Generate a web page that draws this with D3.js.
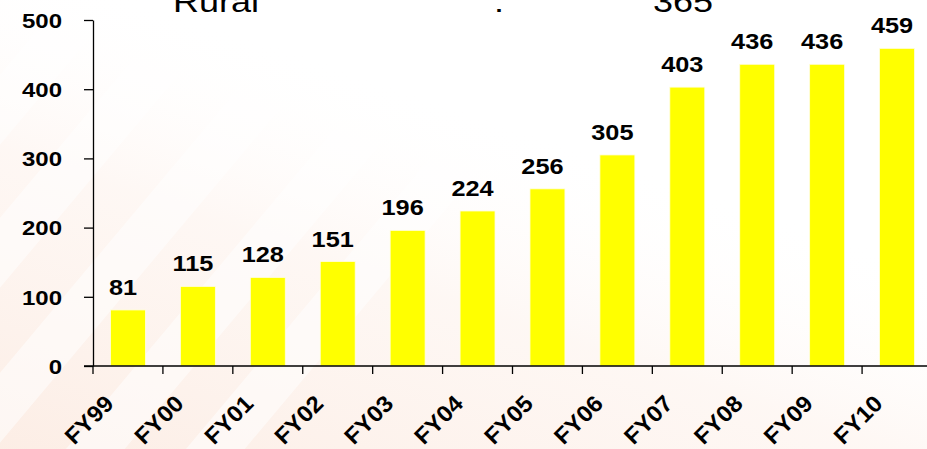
<!DOCTYPE html>
<html>
<head>
<meta charset="utf-8">
<script src="https://cdn.jsdelivr.net/npm/d3@7"></script>
<style>
  body { margin: 0; background: #fff; }
  svg { display: block; font-family: Arial, "Liberation Sans", sans-serif; }
</style>
</head>
<body>
<script>
// chart data
var years = ["FY99", "FY00", "FY01", "FY02", "FY03", "FY04", "FY05", "FY06", "FY07", "FY08", "FY09", "FY10"];
var values = [81, 115, 128, 151, 196, 224, 256, 305, 403, 436, 436, 459];
var yTicks = [0, 100, 200, 300, 400, 500];
var titleParts = ["Rural", ":", "365"];

var width = 927, height = 449;
var SX = 1.2; // text looks horizontally stretched in the original slide

var svg = d3.select("body").append("svg")
  .attr("width", width)
  .attr("height", height);

// faint watermark on the left side of the slide
var defs = svg.append("defs");
var grad = defs.append("linearGradient")
  .attr("id", "wm")
  .attr("x1", "0%").attr("y1", "100%")
  .attr("x2", "70%").attr("y2", "0%");
grad.append("stop").attr("offset", "0%").attr("stop-color", "#fbe6da").attr("stop-opacity", 0.7);
grad.append("stop").attr("offset", "45%").attr("stop-color", "#fdf0e9").attr("stop-opacity", 0.5);
grad.append("stop").attr("offset", "75%").attr("stop-color", "#ffffff").attr("stop-opacity", 0);
svg.append("rect").attr("width", width).attr("height", height).attr("fill", "url(#wm)");

var stripes = svg.append("g").attr("opacity", 0.55);
[-120, 0, 130, 260, 380].forEach(function(o) {
  stripes.append("rect")
    .attr("x", o).attr("y", -200)
    .attr("width", 45).attr("height", 900)
    .attr("fill", "#ffffff")
    .attr("transform", "rotate(40," + (o + 20) + ",225)");
});

// scales
var y = d3.scaleLinear()
  .domain([0, 500])
  .range([366, 20]);

var x = d3.scaleBand()
  .domain(years)
  .range([93, 932])
  .paddingInner(0.5)
  .paddingOuter(0.25);

// title (mostly cut off at the top, as in the slide)
var title = svg.append("g").attr("font-size", 30).attr("fill", "#000");
[[173, titleParts[0]], [494, titleParts[1]], [653, titleParts[2]]].forEach(function(t) {
  title.append("text")
    .attr("transform", "translate(" + t[0] + ",12) scale(" + SX + ",1)")
    .text(t[1]);
});

// bars
svg.append("g")
  .selectAll("rect")
  .data(values)
  .enter().append("rect")
  .attr("x", function(d, i) { return x(years[i]); })
  .attr("y", function(d) { return y(d); })
  .attr("width", x.bandwidth())
  .attr("height", function(d) { return y(0) - y(d); })
  .attr("fill", "#ffff00")
  .attr("stroke", "#fffde0")
  .attr("stroke-width", 0.8);

// value labels
svg.append("g")
  .selectAll("text")
  .data(values)
  .enter().append("text")
  .attr("transform", function(d, i) {
    return "translate(" + (x(years[i]) + x.bandwidth() / 2 - 5) + "," + (y(d) - 15) + ") scale(1.15,1)";
  })
  .attr("text-anchor", "middle")
  .attr("font-size", 22)
  .attr("font-weight", "bold")
  .text(function(d) { return d; });

// y axis
var yAxis = d3.axisLeft(y)
  .tickValues(yTicks)
  .tickSize(9)
  .tickSizeOuter(0);

var gy = svg.append("g")
  .attr("transform", "translate(93,0)")
  .call(yAxis);
gy.select(".domain").attr("stroke", "#000").attr("stroke-width", 1.3);
gy.selectAll(".tick line").attr("stroke", "#000").attr("stroke-width", 1.3);
gy.selectAll(".tick text")
  .attr("x", 0)
  .attr("dy", "0.36em")
  .attr("transform", "translate(-31,0) scale(" + SX + ",1)")
  .attr("font-size", 20)
  .attr("font-weight", "bold")
  .attr("font-family", null)
  .attr("fill", "#000");

// x axis: line + ticks at band edges
var gx = svg.append("g").attr("transform", "translate(0,366)");
gx.append("line")
  .attr("x1", 84).attr("x2", width)
  .attr("stroke", "#000").attr("stroke-width", 1.3);
gx.selectAll(".edge")
  .data(d3.range(years.length + 1))
  .enter().append("line")
  .attr("class", "edge")
  .attr("x1", function(i) { return 93 + i * x.step(); })
  .attr("x2", function(i) { return 93 + i * x.step(); })
  .attr("y1", 0).attr("y2", 8)
  .attr("stroke", "#000").attr("stroke-width", 1.3);

var xAxis = d3.axisBottom(x).tickSize(0);
var gxl = svg.append("g")
  .attr("transform", "translate(0,366)")
  .call(xAxis);
gxl.select(".domain").remove();
gxl.selectAll(".tick text")
  .attr("y", 0).attr("dy", 0)
  .attr("text-anchor", "end")
  .attr("transform", "translate(-13,39) rotate(-45) scale(1.05,1)")
  .attr("font-size", 23)
  .attr("font-weight", "bold")
  .attr("font-family", null)
  .attr("fill", "#000");
</script>
</body>
</html>
